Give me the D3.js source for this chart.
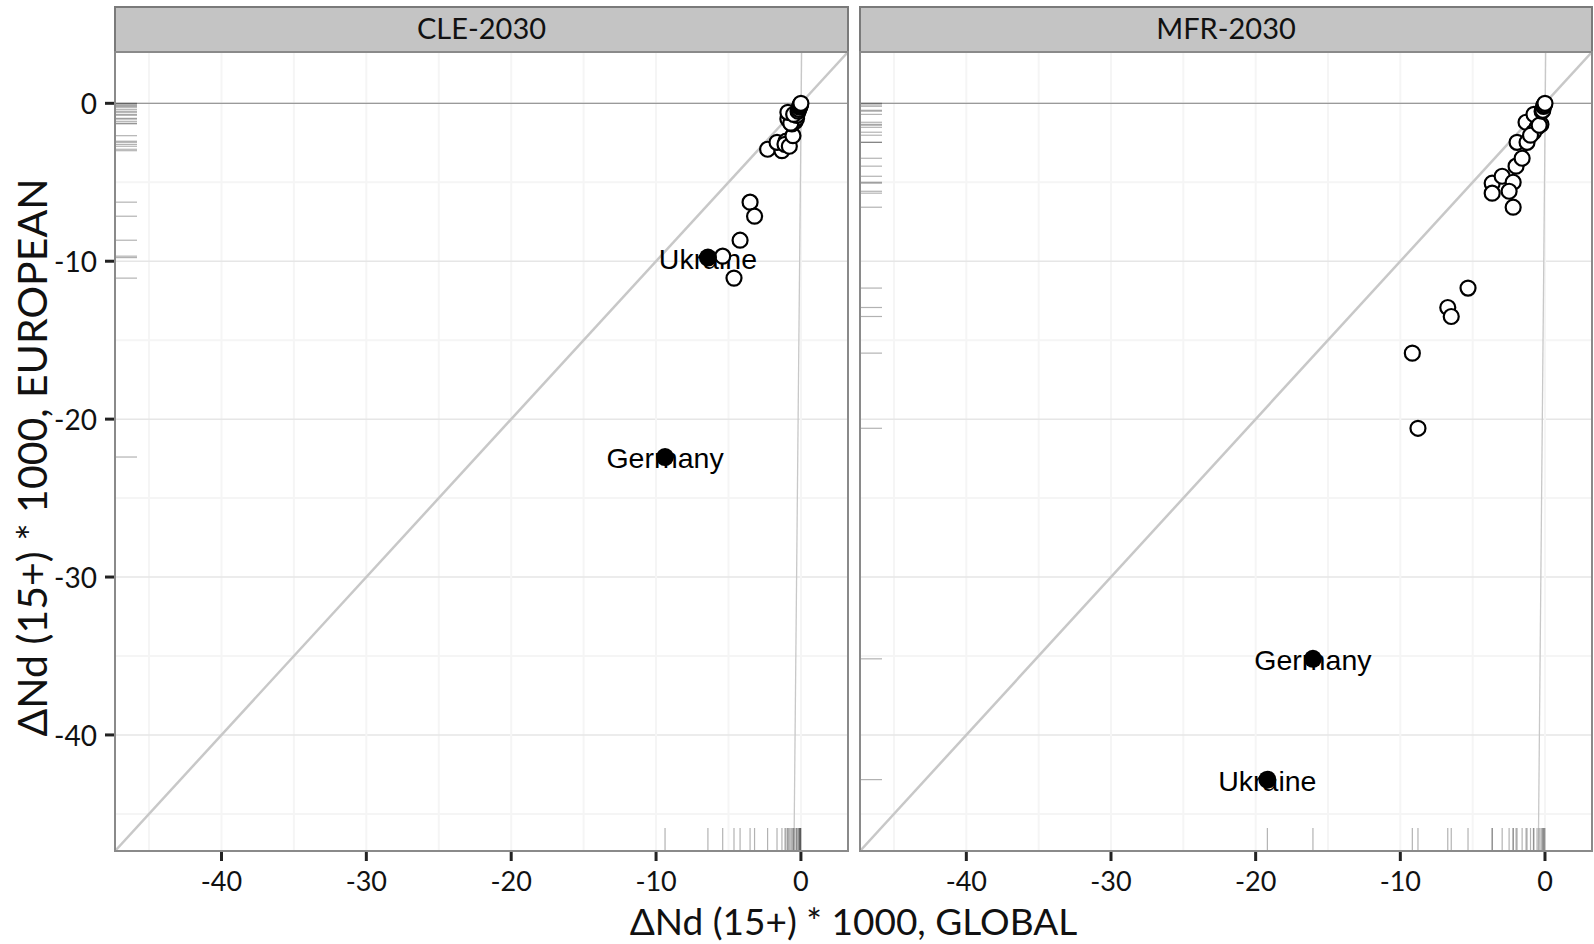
<!DOCTYPE html>
<html>
<head>
<meta charset="utf-8">
<script src="https://cdn.jsdelivr.net/npm/d3@7"></script>
<style>
  html, body { margin: 0; padding: 0; background: #ffffff; }
  svg { display: block; }
</style>
</head>
<body>
<svg id="chart" width="1594" height="944"></svg>
<script>
// Facet names
const panels = ["CLE-2030", "MFR-2030"];

// CLE-2030: change in deaths, global vs European attribution
const cleGlobal = [-9.38, -6.42, -5.40, -4.62, -4.20, -3.51, -3.20, -2.30, -1.31, -1.65, -1.03, -1.10, -0.80, -0.55,
  -0.62, -0.90, -0.40, -0.30, -0.70, -0.28, -0.90, -0.50, -0.20, -0.15, -0.10, -0.08, -0.05, -0.03, 0.00];
const cleEuropean = [-22.40, -9.77, -9.68, -11.07, -8.67, -6.26, -7.15, -2.91, -3.00, -2.47, -2.40, -2.60, -2.72, -2.05,
  -1.30, -1.00, -1.14, -0.95, -1.26, -0.76, -0.57, -0.70, -0.50, -0.38, -0.25, -0.19, -0.13, -0.06, 0.00];
const cleLabel = ["Germany", "Ukraine"];

// MFR-2030
const mfrGlobal = [-16.04, -19.19, -9.17, -8.78, -6.72, -6.48, -5.32, -3.65, -3.65, -2.96, -2.20, -2.48, -2.20, -2.00,
  -1.58, -1.93, -1.24, -1.31, -0.55, -0.80, -1.00, -0.76, -0.28, -0.40, -0.20, -0.15, -0.10, -0.05, 0.00];
const mfrEuropean = [-35.18, -42.83, -15.82, -20.58, -12.93, -13.50, -11.70, -5.06, -5.69, -4.62, -5.00, -5.57, -6.58, -3.98,
  -3.48, -2.47, -2.47, -1.20, -1.52, -1.83, -2.02, -0.70, -1.33, -1.39, -0.50, -0.44, -0.19, -0.10, 0.00];
const mfrLabel = ["Germany", "Ukraine"];

// Near-vertical fitted line (global as a function of european): endpoints in data units
const fitEuropean = [3.25, -47.35];
const cleFitGlobal = [0.05, -0.48];
const mfrFitGlobal = [0.05, -0.46];

// Axis ticks
const majorTicks = [-40, -30, -20, -10, 0];
const tickLabels = ["-40", "-30", "-20", "-10", "0"];
const minorTicks = [-45, -35, -25, -15, -5];

const domain = [-47.35, 3.25];

const data = [
  { name: panels[0], gx: cleGlobal, ey: cleEuropean, labels: cleLabel, fit: cleFitGlobal },
  { name: panels[1], gx: mfrGlobal, ey: mfrEuropean, labels: mfrLabel, fit: mfrFitGlobal }
];

const svg = d3.select("#chart");
const panelTop = 52, panelBottom = 851;
const panelX = [[115, 848], [860, 1592]];
const stripTop = 7;

const y = d3.scaleLinear().domain(domain).range([panelBottom, panelTop]);

const axisFont = "Lato, 'Open Sans', sans-serif";

data.forEach((p, i) => {
  const [x0, x1] = panelX[i];
  const x = d3.scaleLinear().domain(domain).range([x0, x1]);
  const g = svg.append("g");

  // strip
  g.append("rect")
    .attr("x", x0).attr("y", stripTop)
    .attr("width", x1 - x0).attr("height", panelTop - stripTop)
    .attr("fill", "#c4c4c4").attr("stroke", "#7a7a7a").attr("stroke-width", 2);
  g.append("text")
    .attr("x", (x0 + x1) / 2).attr("y", (stripTop + panelTop) / 2 + 2)
    .attr("text-anchor", "middle").attr("dominant-baseline", "middle")
    .attr("font-family", axisFont).attr("font-size", 29).attr("fill", "#111")
    .text(p.name);

  // panel background
  g.append("rect")
    .attr("x", x0).attr("y", panelTop)
    .attr("width", x1 - x0).attr("height", panelBottom - panelTop)
    .attr("fill", "#ffffff");

  // grid
  const grid = g.append("g");
  minorTicks.forEach(t => {
    grid.append("line").attr("x1", x(t)).attr("x2", x(t)).attr("y1", panelTop).attr("y2", panelBottom)
      .attr("stroke", "#f5f5f5").attr("stroke-width", 2);
    grid.append("line").attr("x1", x0).attr("x2", x1).attr("y1", y(t)).attr("y2", y(t))
      .attr("stroke", "#f5f5f5").attr("stroke-width", 2);
  });
  majorTicks.forEach(t => {
    grid.append("line").attr("x1", x(t)).attr("x2", x(t)).attr("y1", panelTop).attr("y2", panelBottom)
      .attr("stroke", "#f5f5f5").attr("stroke-width", 2);
    grid.append("line").attr("x1", x0).attr("x2", x1).attr("y1", y(t)).attr("y2", y(t))
      .attr("stroke", "#e6e6e6").attr("stroke-width", 1.5);
  });

  // clip for lines within panel
  const clipId = "clip" + i;
  svg.append("clipPath").attr("id", clipId).append("rect")
    .attr("x", x0).attr("y", panelTop).attr("width", x1 - x0).attr("height", panelBottom - panelTop);
  const inner = g.append("g").attr("clip-path", `url(#${clipId})`);

  // zero line
  inner.append("line").attr("x1", x0).attr("x2", x1).attr("y1", y(0)).attr("y2", y(0))
    .attr("stroke", "#9a9a9a").attr("stroke-width", 1.2);

  // y = x reference
  inner.append("line")
    .attr("x1", x(domain[0])).attr("y1", y(domain[0]))
    .attr("x2", x(domain[1])).attr("y2", y(domain[1]))
    .attr("stroke", "#c8c8c8").attr("stroke-width", 2.5);

  // fitted line
  inner.append("line")
    .attr("x1", x(p.fit[0])).attr("y1", y(fitEuropean[0]))
    .attr("x2", x(p.fit[1])).attr("y2", y(fitEuropean[1]))
    .attr("stroke", "#c8c8c8").attr("stroke-width", 1.3);

  // rugs
  const rugLen = 22;
  p.ey.forEach(v => {
    inner.append("line").attr("x1", x0).attr("x2", x0 + rugLen).attr("y1", y(v)).attr("y2", y(v))
      .attr("stroke", "#000").attr("stroke-opacity", 0.3).attr("stroke-width", 1.2);
  });
  p.gx.forEach(v => {
    inner.append("line").attr("x1", x(v)).attr("x2", x(v)).attr("y1", panelBottom - rugLen - 1).attr("y2", panelBottom)
      .attr("stroke", "#000").attr("stroke-opacity", 0.3).attr("stroke-width", 1.2);
  });

  const nLab = p.labels.length;

  // labels (under the points)
  p.labels.forEach((lab, k) => {
    inner.append("text")
      .attr("x", x(p.gx[k])).attr("y", y(p.ey[k]) + 1)
      .attr("text-anchor", "middle").attr("dominant-baseline", "central")
      .attr("font-family", "'Liberation Sans', Arial, sans-serif").attr("font-size", 28.5)
      .attr("fill", "#000").text(lab);
  });

  // open points
  p.gx.forEach((v, k) => {
    if (k < nLab) return;
    inner.append("circle").attr("cx", x(v)).attr("cy", y(p.ey[k])).attr("r", 7.5)
      .attr("fill", "#ffffff").attr("stroke", "#000").attr("stroke-width", 2.2);
  });
  // highlighted points
  p.gx.forEach((v, k) => {
    if (k >= nLab) return;
    inner.append("circle").attr("cx", x(v)).attr("cy", y(p.ey[k])).attr("r", 9)
      .attr("fill", "#000");
  });

  // panel border
  g.append("rect")
    .attr("x", x0).attr("y", panelTop)
    .attr("width", x1 - x0).attr("height", panelBottom - panelTop)
    .attr("fill", "none").attr("stroke", "#8a8a8a").attr("stroke-width", 2);

  // x axis
  const xa = g.append("g");
  majorTicks.forEach((t, k) => {
    xa.append("line").attr("x1", x(t)).attr("x2", x(t)).attr("y1", panelBottom + 1).attr("y2", panelBottom + 10)
      .attr("stroke", "#222").attr("stroke-width", 3);
    xa.append("text").attr("x", x(t)).attr("y", panelBottom + 29)
      .attr("text-anchor", "middle").attr("dominant-baseline", "central")
      .attr("font-family", axisFont).attr("font-size", 27).attr("fill", "#111")
      .text(tickLabels[k]);
  });

  // y axis (first panel only)
  if (i === 0) {
    majorTicks.forEach((t, k) => {
      g.append("line").attr("x1", x0 - 10).attr("x2", x0 - 1).attr("y1", y(t)).attr("y2", y(t))
        .attr("stroke", "#222").attr("stroke-width", 3);
      g.append("text").attr("x", x0 - 18).attr("y", y(t))
        .attr("text-anchor", "end").attr("dominant-baseline", "central")
        .attr("font-family", axisFont).attr("font-size", 28).attr("fill", "#111")
        .text(tickLabels[k]);
    });
  }
});

// axis titles
svg.append("text")
  .attr("x", (panelX[0][0] + panelX[1][1]) / 2).attr("y", 920)
  .attr("text-anchor", "middle").attr("dominant-baseline", "central")
  .attr("font-family", axisFont).attr("font-size", 37).attr("fill", "#111")
  .text("ΔNd (15+) * 1000, GLOBAL");

svg.append("text")
  .attr("transform", `translate(31, ${(panelTop + panelBottom) / 2 + 6}) rotate(-90)`)
  .attr("text-anchor", "middle").attr("dominant-baseline", "central")
  .attr("font-family", axisFont).attr("font-size", 41).attr("fill", "#111")
  .text("ΔNd (15+) * 1000, EUROPEAN");
</script>
</body>
</html>
